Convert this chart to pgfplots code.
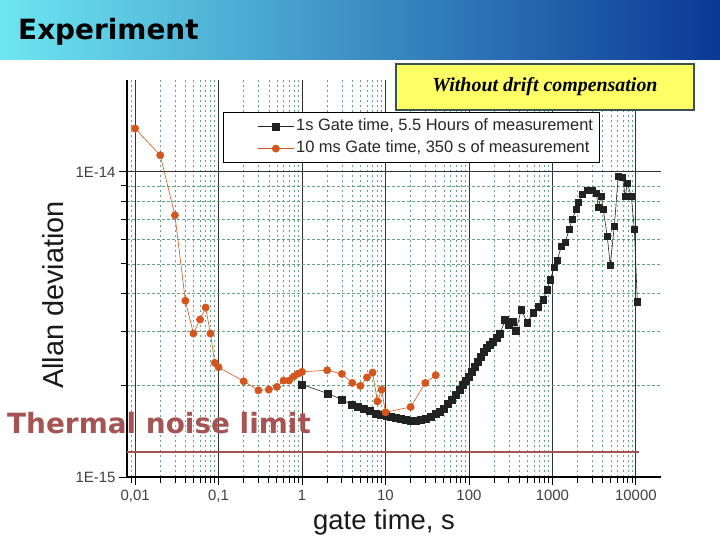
\documentclass[border=0pt]{standalone}
\usepackage{fontspec}
\setmainfont{Liberation Sans}
\newfontfamily\verd{DejaVu Sans}
\newfontfamily\tnr{Liberation Serif}
\usepackage{pgfplots}
\pgfplotsset{compat=1.18}
\definecolor{orangeC}{HTML}{D4561E}
\definecolor{sqC}{HTML}{222222}
\definecolor{thermC}{HTML}{A65353}
\definecolor{gridG}{HTML}{3C8A62}
\definecolor{yelC}{HTML}{FFFF66}
\definecolor{boxC}{HTML}{3A524E}
\definecolor{barA}{HTML}{6EE6F2}
\definecolor{barB}{HTML}{3AA2D4}
\definecolor{barC}{HTML}{0A3896}
\begin{document}
\begin{tikzpicture}[x=1bp,y=1bp]
\useasboundingbox (0,0) rectangle (720,540);
\fill[white] (0,0) rectangle (720,540);
\shade[left color=barA, middle color=barB, right color=barC] (0,480) rectangle (720,540);
\begin{axis}[
  at={(127bp,63bp)}, anchor=south west,
  scale only axis, width=534bp, height=397bp,
  xmode=log, ymode=log,
  xmin=0.008, xmax=20000, ymin=1e-15, ymax=2e-14,
  axis lines*=left,
  axis line style={line width=2bp, black},
  xtick={0.01,0.1,1,10,100,1000,10000},
  xticklabels={{0,01},{0,1},1,10,100,1000,10000},
  minor xtick={0.009,0.02,0.03,0.04,0.05,0.06,0.07,0.08,0.09,0.2,0.3,0.4,0.5,0.6,0.7,0.8,0.9,2,3,4,5,6,7,8,9,20,30,40,50,60,70,80,90,200,300,400,500,600,700,800,900,2000,3000,4000,5000,6000,7000,8000,9000},
  ytick={1e-15,1e-14}, yticklabels={1E-15,1E-14},
  minor ytick={2e-15,3e-15,4e-15,5e-15,6e-15,7e-15,8e-15,9e-15},
  grid=both,
  major grid style={solid, line width=0.8bp, black!80},
  minor grid style={dash pattern=on 2.5bp off 2.5bp, line width=0.5bp, gridG!80!white},
  tick align=outside, major tick length=8bp, minor tick length=6bp,
  tick style={black, line width=0.8bp},
  tick label style={font=\fontsize{15}{18}\selectfont, text=black!75},
  xticklabel style={yshift=-2bp},
  legend cell align=left,
  legend style={at={(0.18,0.919)}, anchor=north west, draw=black, line width=0.8bp, fill=white,
    font=\fontsize{16.5}{20}\selectfont, inner xsep=4bp, inner ysep=3bp,
    nodes={text height=13bp, text depth=5bp, inner ysep=2bp, inner xsep=2bp, text=black!85}},
  legend image code/.code={\path (-30bp,0bp); \draw[mark repeat=2, mark phase=2, #1] plot coordinates {(0bp,0bp) (18bp,0bp) (36bp,0bp)};},
]
\addplot[draw=thermC, line width=2bp, forget plot] coordinates {(0.008,1.21e-15) (11000,1.21e-15)};
\addplot[color=sqC, line width=0.6bp, mark=square*, mark size=3.4bp, mark options={solid, fill=sqC, draw=sqC}] coordinates {
(1,2.01e-15) (2.05,1.877e-15) (3.02,1.794e-15) (3.98,1.727e-15) (4.69,1.701e-15) (5.53,1.676e-15)
(6.54,1.651e-15) (7.72,1.614e-15) (8.86,1.602e-15) (10.2,1.589e-15) (11.7,1.577e-15) (13.4,1.565e-15)
(15.4,1.553e-15) (17.7,1.542e-15) (20.3,1.530e-15) (23.3,1.530e-15) (26.7,1.542e-15) (30.7,1.553e-15)
(35.2,1.577e-15) (40.4,1.614e-15) (45.2,1.638e-15) (50.4,1.676e-15) (56.3,1.740e-15) (62.9,1.794e-15)
(70.3,1.863e-15) (78.4,1.935e-15) (85.2,2.01e-15) (92.5,2.071e-15) (100.5,2.135e-15) (109.2,2.217e-15)
(118.6,2.302e-15) (128.9,2.391e-15) (140.0,2.483e-15) (152.1,2.578e-15) (165.3,2.658e-15) (179.6,2.719e-15)
(195.1,2.781e-15) (217.9,2.867e-15) (236.7,2.955e-15) (271.6,3.284e-15) (303.4,3.162e-15) (338.8,3.235e-15)
(368.1,3.022e-15) (422.7,3.542e-15) (498.8,3.211e-15) (588.6,3.462e-15) (675.6,3.623e-15) (776.1,3.820e-15)
(866.5,4.120e-15) (941.9,4.443e-15) (1051,4.865e-15) (1143,5.129e-15) (1276,5.703e-15) (1423,5.877e-15)
(1589,6.485e-15) (1727,6.994e-15) (1928,7.542e-15) (2038,7.953e-15) (2275,8.449e-15) (2613,8.710e-15)
(3000,8.710e-15) (3352,8.513e-15) (3540,7.657e-15) (3847,8.321e-15) (4066,7.542e-15) (4540,6.150e-15)
(4932,4.940e-15) (5509,6.633e-15) (6152,9.680e-15) (6871,9.607e-15) (7476,8.321e-15) (7907,9.181e-15)
(8818,8.321e-15) (9580,6.485e-15) (10410,3.763e-15)
};
\addlegendentry{1s Gate time, 5.5 Hours of measurement}
\addplot[color=orangeC, line width=0.6bp, mark=*, mark size=3.6bp, mark options={solid, fill=orangeC, draw=orangeC}] coordinates {
(0.01,1.388e-14) (0.02,1.134e-14) (0.03,7.208e-15) (0.04,3.783e-15) (0.05,2.954e-15) (0.06,3.284e-15)
(0.07,3.595e-15) (0.08,2.954e-15) (0.09,2.367e-15) (0.1,2.290e-15) (0.2,2.060e-15) (0.3,1.924e-15)
(0.4,1.935e-15) (0.5,1.975e-15) (0.6,2.071e-15) (0.7,2.071e-15) (0.8,2.139e-15) (0.9,2.183e-15)
(1,2.212e-15) (2,2.239e-15) (3,2.178e-15) (4,2.035e-15) (5,1.990e-15) (6,2.121e-15)
(7,2.200e-15) (8,1.771e-15) (9,1.935e-15) (10,1.630e-15) (20,1.697e-15) (30,2.035e-15) (40,2.156e-15)
};
\addlegendentry{10 ms Gate time, 350 s of measurement}
\end{axis}
\node[anchor=base west, inner sep=0pt, font=\verd\bfseries\fontsize{28}{32}\selectfont, text=black] at (18,500) {Experiment};
\node[anchor=base west, inner sep=0pt, font=\verd\bfseries\fontsize{28}{32}\selectfont, text=thermC] at (7,106) {Thermal noise limit};
\node[draw=boxC, line width=2.5bp, fill=yelC, minimum width=298bp, minimum height=46bp, inner sep=0pt,
  font=\tnr\bfseries\itshape\fontsize{20}{22}\selectfont] at (545,453) {Without drift compensation};
\node[rotate=90, anchor=center, inner sep=0pt, font=\fontsize{29}{32}\selectfont, text=black!90] at (53,245) {Allan deviation};
\node[anchor=center, inner sep=0pt, font=\fontsize{27.5}{32}\selectfont, text=black!90] at (384,18) {gate time, s};
\end{tikzpicture}
\end{document}
